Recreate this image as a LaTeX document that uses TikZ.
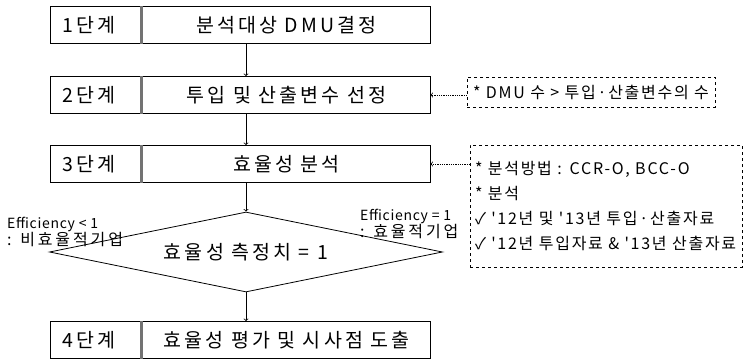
\documentclass[tikz,border=0pt]{standalone}
\usepackage{fontspec}
\setmainfont{Noto Sans CJK KR}
\newfontfamily\widefont[LetterSpace=16]{Noto Sans CJK KR}
\newfontfamily\notefont[LetterSpace=11]{Noto Sans CJK KR}
\newfontfamily\labfont[LetterSpace=5]{Noto Sans CJK KR}
\newfontfamily\labkfont[LetterSpace=18]{Noto Sans CJK KR}
\usepackage{tikz}
\usetikzlibrary{arrows, shapes}

\begin{document}
\begin{tikzpicture}[>=to,x=1pt,y=-1pt]
\tikzset{stage/.style={rectangle,
       draw,
       thick,
       minimum width=380pt,
       minimum height=37pt},
  notebox/.style={rectangle,
       draw,
       dashed,
       align=left,
       inner sep=5pt,
       font=\notefont\fontsize{16}{25}\selectfont}}
\useasboundingbox (0,0) rectangle (745,362);
\node [stage](s1) at (240,25) {};
\node [stage](s2) at (240,95) {};
\node [stage](s3) at (240,164) {};
\node [stage](s4) at (240,340) {};
\node [diamond,
       draw,
       thick,
       aspect=4.9,
       minimum width=393pt,
       minimum height=80pt,
       inner sep=0pt,
       font=\widefont\fontsize{19.5}{22}\selectfont](dec) at (246,252) {효율성 측정치 = 1};
\foreach \s/\n/\k in {s1/1/분석대상 DMU결정,
                      s2/2/투입 및 산출변수 선정,
                      s3/3/효율성 분석,
                      s4/4/효율성 평가 및 시사점 도출}{
  \draw [line width=2.5pt, black!55] ([xshift=92pt]\s.north west) -- ([xshift=92pt]\s.south west);
  \node [font=\widefont\fontsize{19.5}{22}\selectfont,anchor=west,inner sep=0pt] (\s l) at ([xshift=13pt]\s.west) {{\n}단계};
  \node [font=\widefont\fontsize{19.5}{22}\selectfont] (\s t) at ([xshift=46.5pt]\s.center) {\k};
}
\node [notebox,
       minimum width=248pt,
       minimum height=30pt](n1) at (591,92) {* DMU 수 > 투입·산출변수의 수};
\node [notebox,
       text width=262pt,
       minimum height=122pt](n2) at (606,206) {* 분석방법 : CCR-O, BCC-O\\
	{*} 분석\\
	✓ '12년 및 '13년 투입·산출자료\\
	✓ '12년 투입자료 \& '13년 산출자료};
\node [align=left,
       anchor=west,
       inner sep=0pt,
       font=\labfont\fontsize{14}{17}\selectfont](lo) at (7,232) {Efficiency < 1\\
	{\labkfont\fontsize{16}{17}\selectfont : 비효율적기업}};
\node [align=left,
       anchor=west,
       inner sep=0pt,
       font=\labfont\fontsize{14}{17}\selectfont](hi) at (360,224) {Efficiency = 1\\
	{\labkfont\fontsize{16}{17}\selectfont : 효율적기업}};
\draw[->, thick] (s1.south -| dec.north) to (s2.north -| dec.north);
\draw[->, thick] (s2.south -| dec.north) to (s3.north -| dec.north);
\draw[->, thick] (s3.south -| dec.north) to (dec.north);
\draw[->, thick] (dec.south) to (s4.north -| dec.north);
\draw[->, densely dotted, thick] (n1.west |- s2.east) to (s2.east);
\draw[->, densely dotted, thick] (n2.west |- s3.east) to (s3.east);
\end{tikzpicture}
\end{document}
